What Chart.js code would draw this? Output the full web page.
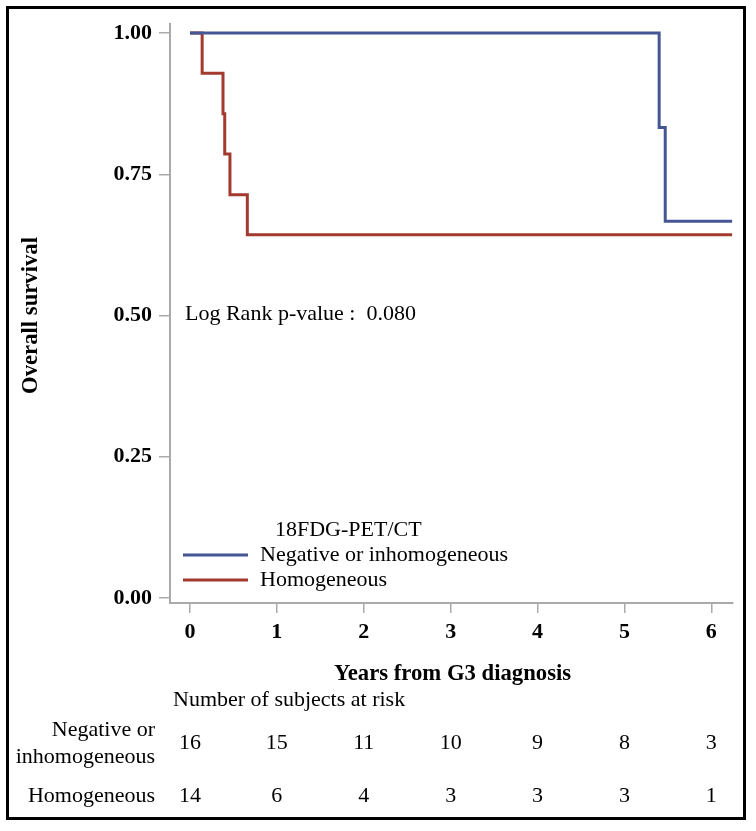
<!DOCTYPE html>
<html>
<head>
<meta charset="utf-8">
<script src="https://cdn.jsdelivr.net/npm/chart.js@4"></script>
<style>
  body { margin: 0; background: #fff; }
  canvas { display: block; }
</style>
</head>
<body>
<canvas id="kmChart" width="756" height="831"></canvas>
<script>
// 데이터
const years = [0, 1, 2, 3, 4, 5, 6];
const survTicks = [0, 0.25, 0.5, 0.75, 1];

const negTimes = [0, 5.40, 5.47, 6.24];
const negSurv = [1, 0.833, 0.667, 0.667];

const homTimes = [0, 0.14, 0.38, 0.40, 0.46, 0.66, 6.24];
const homSurv = [1, 0.929, 0.857, 0.786, 0.714, 0.643, 0.643];

const riskNeg = [16, 15, 11, 10, 9, 8, 3];
const riskHom = [14, 6, 4, 3, 3, 3, 1];

const groupNames = ["Negative or inhomogeneous", "Homogeneous"];
const blue = "#445694";
const red = "#A23A2E";
const serif = "'Liberation Serif', 'Times New Roman', serif";

Chart.defaults.font.family = serif;
Chart.defaults.color = "#000";

// 범례, 위험표, 테두리 그리기
const extras = {
  id: "extras",
  beforeDraw(chart) {
    const c = chart.ctx;
    c.save();
    c.fillStyle = "#fff";
    c.fillRect(0, 0, chart.width, chart.height);
    c.restore();
  },
  afterDraw(chart) {
    const c = chart.ctx;
    const x = chart.scales.x;
    c.save();
    c.fillStyle = "#000";

    // 축 제목
    c.font = "bold 22.7px " + serif;
    c.textAlign = "center";
    c.textBaseline = "middle";
    c.fillText("Years from G3 diagnosis", (chart.chartArea.left + chart.chartArea.right) / 2 + 1, 674);
    c.save();
    c.translate(31, (chart.chartArea.top + chart.chartArea.bottom) / 2 + 2);
    c.rotate(-Math.PI / 2);
    c.fillText("Overall survival", 0, 0);
    c.restore();

    // Log rank
    c.font = "22px " + serif;
    c.textAlign = "left";
    c.fillText("Log Rank p-value :  0.080", 185, 314);

    // 범례
    c.fillText("18FDG-PET/CT", 275, 530);
    c.fillText(groupNames[0], 260, 555);
    c.fillText(groupNames[1], 260, 580);
    c.lineWidth = 3;
    c.strokeStyle = blue;
    c.beginPath(); c.moveTo(183, 555); c.lineTo(248, 555); c.stroke();
    c.strokeStyle = red;
    c.beginPath(); c.moveTo(183, 580); c.lineTo(248, 580); c.stroke();

    // 위험 대상자 수
    c.fillText("Number of subjects at risk", 173, 700);
    c.textAlign = "right";
    c.fillText("Negative or", 155, 730);
    c.fillText("inhomogeneous", 155, 757);
    c.fillText("Homogeneous", 155, 796);
    c.textAlign = "center";
    years.forEach(function (yr, i) {
      const px = x.getPixelForValue(yr);
      c.fillText(String(riskNeg[i]), px, 743);
      c.fillText(String(riskHom[i]), px, 796);
    });

    // 바깥 테두리
    c.lineWidth = 3;
    c.strokeStyle = "#000";
    c.strokeRect(7.5, 7.5, 737, 811);
    c.restore();
  },
};

new Chart(document.getElementById("kmChart"), {
  type: "line",
  data: {
    datasets: [
      {
        label: groupNames[0],
        data: negTimes.map((t, i) => ({ x: t, y: negSurv[i] })),
        borderColor: blue,
        borderWidth: 3,
        pointRadius: 0,
        stepped: "before",
        fill: false,
      },
      {
        label: groupNames[1],
        data: homTimes.map((t, i) => ({ x: t, y: homSurv[i] })),
        borderColor: red,
        borderWidth: 3,
        pointRadius: 0,
        stepped: "before",
        fill: false,
      },
    ],
  },
  options: {
    responsive: false,
    animation: false,
    layout: { padding: { left: 0, top: 24, right: 23, bottom: 188 } },
    plugins: {
      legend: { display: false },
      tooltip: { enabled: false },
    },
    scales: {
      x: {
        type: "linear",
        min: -0.23,
        max: 6.25,
        afterBuildTicks: (s) => { s.ticks = years.map((v) => ({ value: v })); },
        afterFit: (s) => { s.height = 40; },
        grid: { drawOnChartArea: false, drawTicks: true, tickLength: 10, color: "#aaa", lineWidth: 1.5 },
        border: { display: true, color: "#aaa", width: 2 },
        ticks: { font: { size: 22, weight: "bold" }, padding: 6, maxRotation: 0, callback: (v) => String(v) },
      },
      y: {
        type: "linear",
        min: -0.0088,
        max: 1.016,
        afterBuildTicks: (s) => { s.ticks = survTicks.map((v) => ({ value: v })); },
        afterFit: (s) => { s.width = 170; },
        grid: { drawOnChartArea: false, drawTicks: true, tickLength: 11, color: "#aaa", lineWidth: 1.5 },
        border: { display: true, color: "#aaa", width: 2 },
        ticks: { font: { size: 22, weight: "bold" }, padding: 7, callback: (v) => v.toFixed(2) },
      },
    },
  },
  plugins: [extras],
});
</script>
</body>
</html>
